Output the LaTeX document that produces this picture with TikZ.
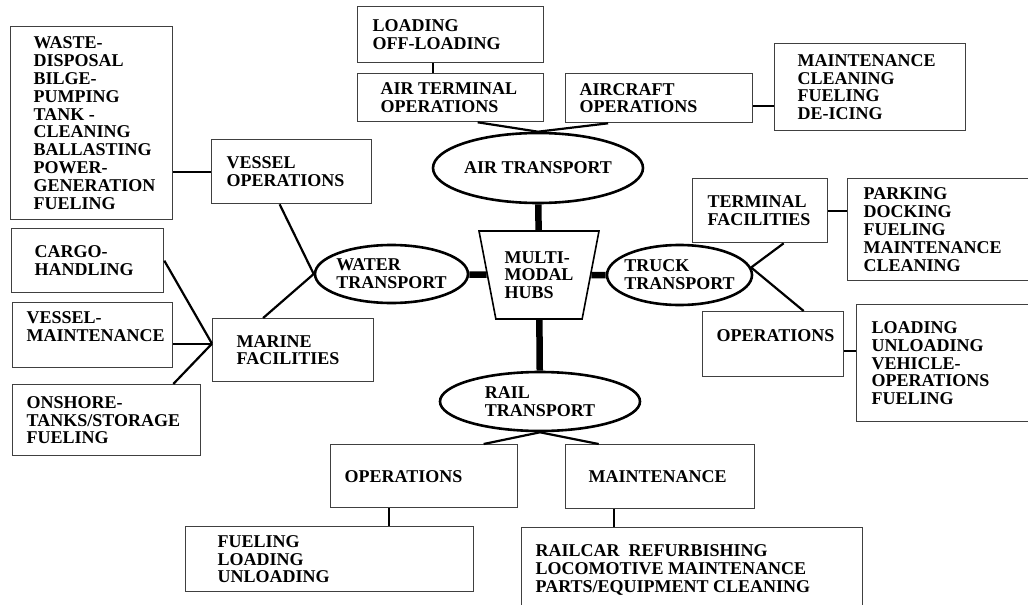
\documentclass[tikz,border=0pt]{standalone}
\usepackage{fontspec}
\setmainfont{Liberation Serif}
\usetikzlibrary{shapes.geometric}

\begin{document}
\begin{tikzpicture}[x=1pt, y=-1pt,
    font=\fontsize{18}{17.8}\selectfont\bfseries,
    box/.style={draw=black!75, line width=1.3pt, anchor=north west, align=flush left, inner ysep=0pt},
    oval/.style={draw, ellipse, line width=2.6pt, align=flush left, inner xsep=-8pt, inner ysep=0pt},
    hub/.style={draw, trapezium, shape border rotate=180, trapezium left angle=71.2, trapezium right angle=71.2,
                trapezium stretches body, minimum width=120pt, minimum height=88pt, line width=1.6pt,
                align=flush left, inner sep=1pt},
    link/.style={line width=2.2pt},
    stem/.style={line width=6.5pt}]
    \useasboundingbox (0,0) rectangle (1028,605);

    % centre
    \node[hub] (hub) at (539,275) {MULTI-\\MODAL\\HUBS};
    \node[oval, minimum width=210pt, minimum height=70pt] (air) at (538,168) {AIR TRANSPORT};
    \node[oval, minimum width=153pt, minimum height=58pt] (water) at (391.5,274) {WATER\\TRANSPORT};
    \node[oval, minimum width=145pt, minimum height=60pt] (truck) at (679.5,275) {TRUCK\\TRANSPORT};
    \node[oval, minimum width=200pt, minimum height=59pt] (rail) at (540,401.5) {RAIL\\TRANSPORT};

    % water side
    \node[box, inner xsep=23pt, text width=116pt, minimum height=193pt] (waste) at (10,26)
        {WASTE-\\DISPOSAL\\BILGE-\\PUMPING\\TANK -\\CLEANING\\BALLASTING\\POWER-\\GENERATION\\FUELING};
    \node[box, inner xsep=15pt, text width=130pt, minimum height=64pt] (vesselops) at (211,139) {VESSEL\\OPERATIONS};
    \node[box, inner xsep=23pt, text width=106pt, minimum height=64pt] (cargo) at (11,228) {CARGO-\\HANDLING};
    \node[box, inner xsep=14pt, text width=132pt, minimum height=65pt] (vesselmaint) at (12,302) {VESSEL-\\MAINTENANCE\\\mbox{}};
    \node[box, inner xsep=24pt, text width=113pt, minimum height=63pt] (marine) at (212,318) {MARINE\\FACILITIES};
    \node[box, inner xsep=14pt, text width=160pt, minimum height=71pt] (onshore) at (12,384) {ONSHORE-\\TANKS/STORAGE\\FUELING};

    % air side
    \node[box, inner xsep=15pt, text width=156pt, minimum height=56pt] (loadoff) at (357,6) {LOADING\\OFF-LOADING};
    \node[box, inner xsep=23pt, text width=140pt, minimum height=48pt] (airterm) at (357,73) {AIR TERMINAL\\OPERATIONS};
    \node[box, inner xsep=14pt, text width=159pt, minimum height=49pt] (aircraft) at (565,73) {AIRCRAFT\\OPERATIONS};
    \node[box, inner xsep=23pt, text width=145pt, minimum height=87pt] (airmaint) at (774,43) {MAINTENANCE\\CLEANING\\FUELING\\DE-ICING};

    % truck side
    \node[box, inner xsep=15pt, text width=105pt, minimum height=64pt] (termfac) at (692,178) {TERMINAL\\FACILITIES};
    \node[box, inner xsep=16pt, text width=160pt, minimum height=102pt] (parking) at (847,178) {PARKING\\DOCKING\\FUELING\\MAINTENANCE\\CLEANING};
    \node[box, inner xsep=14pt, text width=113pt, minimum height=65pt] (truckops) at (702,311) {OPERATIONS\\\mbox{}};
    \node[box, inner xsep=15pt, text width=160pt, minimum height=117pt] (truckload) at (856,304) {LOADING\\UNLOADING\\VEHICLE-\\OPERATIONS\\FUELING};

    % rail side
    \node[box, inner xsep=14pt, text width=159pt, minimum height=63pt] (railops) at (330,444) {OPERATIONS};
    \node[box, inner xsep=23pt, text width=143pt, minimum height=64pt] (railmaint) at (565,444) {MAINTENANCE};
    \node[box, inner xsep=32pt, text width=224pt, minimum height=65pt] (railfuel) at (185,526) {FUELING\\LOADING\\UNLOADING};
    \node[box, inner xsep=14pt, text width=313pt, minimum height=85pt] (railcar) at (521,527)
        {RAILCAR\ \ REFURBISHING\\LOCOMOTIVE MAINTENANCE\\PARTS/EQUIPMENT CLEANING};

    % hub stems
    \draw[stem] (air) -- (hub);
    \draw[stem] (water) -- (hub);
    \draw[stem] (truck) -- (hub);
    \draw[stem] (hub) -- (rail);

    % water links
    \coordinate (mhub) at ([yshift=6.5pt]marine.west);
    \draw[link] (waste.east |- vesselops.west) -- (vesselops.west);
    \draw[link] ([xshift=-12pt]vesselops.south) -- (water.west);
    \draw[link] ([xshift=-30pt]marine.north) -- (water.west);
    \draw[link] (cargo.east) -- (mhub);
    \draw[link] (vesselmaint.east |- mhub) -- (mhub);
    \draw[link] ([xshift=-28pt]onshore.north east) -- (mhub);

    % air links
    \draw[link] ([xshift=-18pt]loadoff.south) -- ([xshift=-18pt]airterm.north);
    \draw[link] ([xshift=27pt]airterm.south) -- (air.north);
    \draw[link] ([xshift=-51pt]aircraft.south) -- (air.north);
    \draw[link] ([yshift=-7.5pt]aircraft.east) -- ([yshift=-7.5pt]aircraft.east -| airmaint.west);

    % truck links
    \coordinate (tx) at (truck.6);
    \draw[link] ([xshift=23.5pt]termfac.south) -- (tx) -- ([xshift=30.5pt]truckops.north);
    \draw[link] (termfac.east) -- (termfac.east -| parking.west);
    \draw[link] ([yshift=-7pt]truckops.east) -- ([yshift=-7pt]truckops.east -| truckload.west);

    % rail links
    \draw[link] ([xshift=59.5pt]railops.north) -- (rail.south) -- ([xshift=-61.5pt]railmaint.north);
    \draw[link] ([xshift=-35.5pt]railops.south) -- ([xshift=-35.5pt]railops.south |- railfuel.north);
    \draw[link] ([xshift=-46.5pt]railmaint.south) -- ([xshift=-46.5pt]railmaint.south |- railcar.north);
\end{tikzpicture}
\end{document}
